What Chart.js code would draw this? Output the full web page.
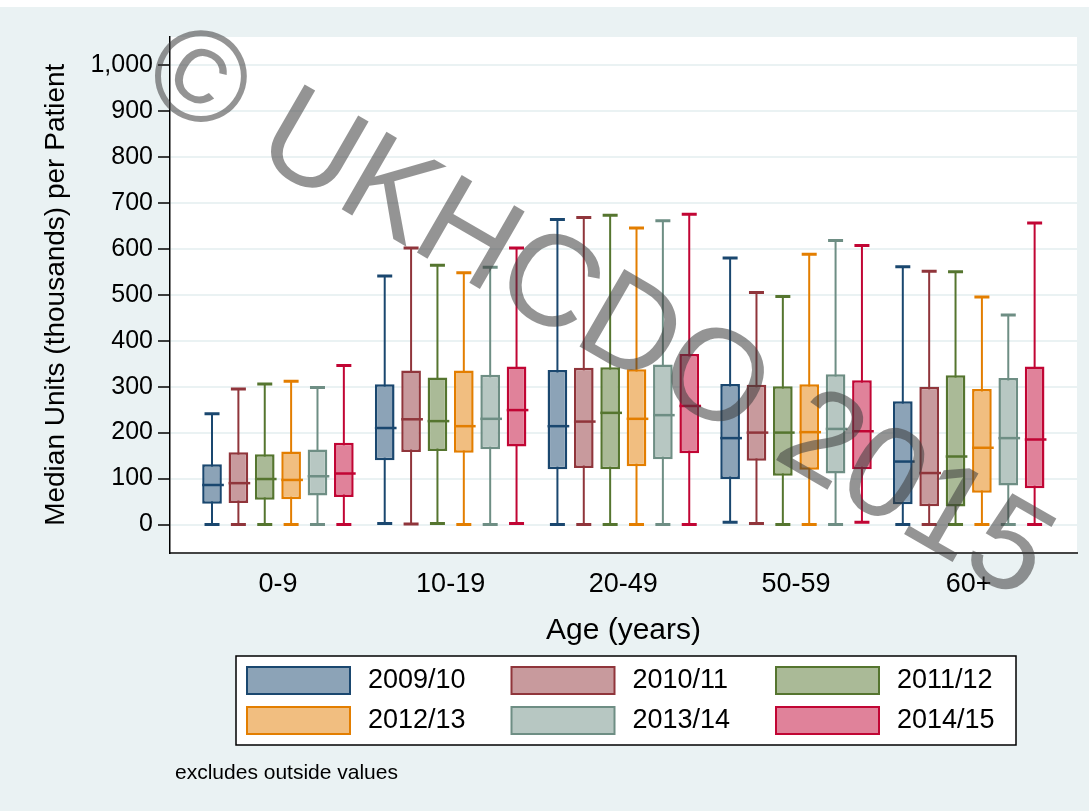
<!DOCTYPE html>
<html lang="en">
<head>
    <meta charset="UTF-8">
    <title>Median Units per Patient by Age</title>
    <script src="https://cdn.jsdelivr.net/npm/chart.js@4"></script>
    <style>
        body { margin: 0; background: #ffffff; }
        canvas { display: block; }
    </style>
</head>
<body>
    <canvas id="boxChart" width="1089" height="811"></canvas>

    <script>
        // categories and series
        const ageGroups = ['0-9', '10-19', '20-49', '50-59', '60+'];
        const seasons = ['2009/10', '2010/11', '2011/12', '2012/13', '2013/14', '2014/15'];
        const yTicks = [0, 100, 200, 300, 400, 500, 600, 700, 800, 900, 1000];

        // box statistics, one row per season, one column per age group
        const whiskerHigh = [
            [241, 541, 664, 580, 561],
            [295, 602, 668, 505, 551],
            [306, 564, 673, 496, 550],
            [312, 548, 645, 588, 495],
            [298, 560, 661, 618, 456],
            [346, 602, 675, 607, 656]
        ];
        const upperQuartile = [
            [131, 305, 336, 306, 268],
            [157, 335, 341, 304, 300],
            [153, 320, 342, 301, 325],
            [159, 335, 338, 305, 295],
            [163, 326, 348, 327, 319],
            [178, 344, 371, 314, 344]
        ];
        const medians = [
            [86, 210, 214, 188, 137],
            [90, 229, 224, 200, 112],
            [99, 225, 243, 200, 148],
            [97, 214, 230, 201, 167],
            [105, 230, 238, 208, 188],
            [111, 249, 258, 203, 185]
        ];
        const lowerQuartile = [
            [45, 140, 120, 99, 44],
            [47, 158, 123, 139, 40],
            [54, 160, 120, 106, 39],
            [55, 156, 127, 119, 69],
            [63, 164, 142, 111, 85],
            [60, 170, 155, 120, 79]
        ];
        const whiskerLow = [
            [0, 2, 0, 5, 0],
            [0, 1, 0, 2, 0],
            [0, 2, 0, 0, 0],
            [0, 0, 0, 0, 0],
            [0, 0, 0, 0, 0],
            [0, 2, 0, 5, 0]
        ];

        // stata s2color style colours
        const lineColors = ['#1A476F', '#90353B', '#55752F', '#E37E00', '#6E8E84', '#C10534'];
        const fillColors = ['#8CA3B7', '#C89A9D', '#AABA97', '#F1BE80', '#B7C7C2', '#E0829A'];

        const FONT = '"Liberation Sans", Arial, sans-serif';
        const BG = '#EAF2F3';
        Chart.defaults.font.family = FONT;
        Chart.defaults.color = '#000';

        // background + white plot region
        const backdrop = {
            id: 'backdrop',
            beforeDraw(chart) {
                const { ctx, chartArea: a } = chart;
                ctx.save();
                ctx.fillStyle = '#fff';
                ctx.fillRect(0, 0, chart.width, chart.height);
                ctx.fillStyle = BG;
                ctx.fillRect(0, 7, chart.width, chart.height - 7);
                ctx.fillStyle = '#fff';
                ctx.fillRect(a.left, a.top, a.right - a.left, a.bottom - a.top);
                ctx.restore();
            }
        };

        // whiskers behind the boxes, medians on top
        const boxParts = {
            id: 'boxParts',
            beforeDatasetsDraw(chart) {
                const { ctx, scales: { y } } = chart;
                ctx.save();
                chart.data.datasets.forEach((ds, k) => {
                    chart.getDatasetMeta(k).data.forEach((bar, i) => {
                        const top = y.getPixelForValue(whiskerHigh[k][i]);
                        const bot = y.getPixelForValue(whiskerLow[k][i]);
                        ctx.strokeStyle = lineColors[k];
                        ctx.lineWidth = 2;
                        ctx.beginPath();
                        ctx.moveTo(bar.x, top);
                        ctx.lineTo(bar.x, bot);
                        ctx.stroke();
                        ctx.lineWidth = 3;
                        ctx.beginPath();
                        ctx.moveTo(bar.x - 7.5, top);
                        ctx.lineTo(bar.x + 7.5, top);
                        ctx.moveTo(bar.x - 7.5, bot);
                        ctx.lineTo(bar.x + 7.5, bot);
                        ctx.stroke();
                    });
                });
                ctx.restore();
            },
            afterDatasetsDraw(chart) {
                const { ctx, scales: { y } } = chart;
                ctx.save();
                chart.data.datasets.forEach((ds, k) => {
                    chart.getDatasetMeta(k).data.forEach((bar, i) => {
                        const py = y.getPixelForValue(medians[k][i]);
                        ctx.strokeStyle = lineColors[k];
                        ctx.lineWidth = 2.5;
                        ctx.beginPath();
                        ctx.moveTo(bar.x - bar.width / 2, py);
                        ctx.lineTo(bar.x + bar.width / 2 + 2, py);
                        ctx.stroke();
                    });
                });
                ctx.restore();
            }
        };

        // legend box, note and watermark
        const extras = {
            id: 'extras',
            afterDraw(chart) {
                const ctx = chart.ctx;
                ctx.save();
                ctx.fillStyle = '#fff';
                ctx.fillRect(236, 656, 780, 89);
                ctx.strokeStyle = '#000';
                ctx.lineWidth = 1.5;
                ctx.strokeRect(236, 656, 780, 89);

                ctx.font = '27px ' + FONT;
                ctx.textBaseline = 'middle';
                ctx.textAlign = 'left';
                seasons.forEach((s, k) => {
                    const col = k % 3, row = Math.floor(k / 3);
                    const sx = 247 + col * 264.5;
                    const sy = 667 + row * 40;
                    ctx.fillStyle = fillColors[k];
                    ctx.fillRect(sx, sy, 103, 27);
                    ctx.strokeStyle = lineColors[k];
                    ctx.lineWidth = 2;
                    ctx.strokeRect(sx, sy, 103, 27);
                    ctx.fillStyle = '#000';
                    ctx.fillText(s, sx + 121, sy + 14);
                });

                ctx.font = '21px ' + FONT;
                ctx.textBaseline = 'alphabetic';
                ctx.fillText('excludes outside values', 175, 779);

                // watermark
                ctx.translate(137, 91);
                ctx.rotate(30 * Math.PI / 180);
                ctx.font = '130px ' + FONT;
                ctx.fillStyle = 'rgba(60,60,60,0.55)';
                ctx.fillText('\u00A9 UKHCDO 2015', 0, 0);
                ctx.restore();
            }
        };

        const datasets = seasons.map((s, k) => ({
            label: s,
            data: ageGroups.map((g, i) => ({ x: i, y: [lowerQuartile[k][i], upperQuartile[k][i]] })),
            backgroundColor: fillColors[k],
            borderColor: lineColors[k],
            borderWidth: 2.5,
            borderSkipped: false,
            categoryPercentage: 0.916,
            barPercentage: 0.746
        }));

        const ctx = document.getElementById('boxChart').getContext('2d');
        const chart = new Chart(ctx, {
            type: 'bar',
            data: { datasets },
            options: {
                responsive: false,
                animation: false,
                layout: { padding: { left: 0, top: 37, right: 12, bottom: 0 } },
                plugins: {
                    legend: { display: false },
                    tooltip: { enabled: false }
                },
                scales: {
                    x: {
                        type: 'linear',
                        offset: false,
                        min: -0.625,
                        max: 4.627,
                        afterBuildTicks: s => { s.ticks = ageGroups.map((g, i) => ({ value: i })); },
                        afterFit: s => { s.height = 258.5; },
                        ticks: {
                            callback: v => ageGroups[Math.round(v)],
                            font: { size: 27 },
                            padding: 8,
                            maxRotation: 0
                        },
                        grid: { display: false, offset: false },
                        border: { display: true, color: '#444', width: 2 },
                        title: {
                            display: true,
                            text: 'Age (years)',
                            font: { size: 30 },
                            padding: { top: 0, bottom: 162 }
                        }
                    },
                    y: {
                        min: -60.9,
                        max: 1060.9,
                        afterBuildTicks: s => { s.ticks = yTicks.map(v => ({ value: v })); },
                        afterFit: s => { s.width = 170; },
                        ticks: {
                            callback: v => v.toLocaleString('en-US'),
                            font: { size: 25 },
                            padding: 5
                        },
                        grid: {
                            color: BG,
                            lineWidth: 2,
                            tickColor: '#000',
                            tickWidth: 1.5,
                            tickLength: 12
                        },
                        border: { display: true, color: '#000', width: 1.5 },
                        title: {
                            display: true,
                            text: 'Median Units (thousands) per Patient',
                            font: { size: 28 },
                            padding: { top: 39, bottom: 0 }
                        }
                    }
                }
            },
            plugins: [backdrop, boxParts, extras]
        });
    </script>
</body>
</html>
